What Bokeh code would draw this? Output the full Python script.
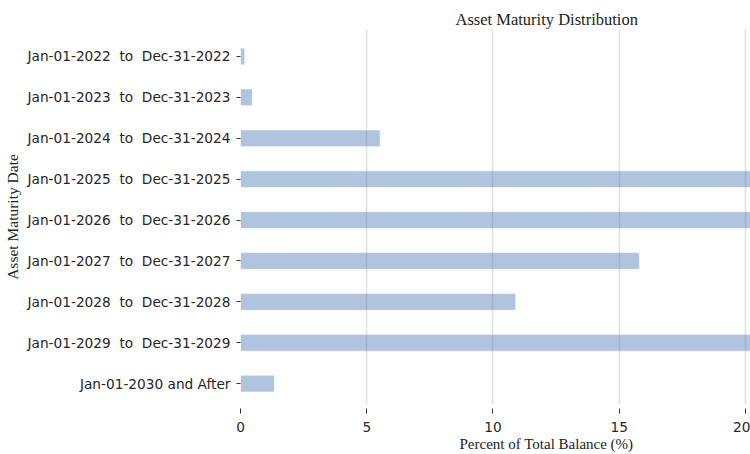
from bokeh.plotting import figure
from bokeh.models import Range1d, FixedTicker, Title
from bokeh.embed import file_html
from bokeh.resources import INLINE

NB = "\u00a0"
categories = [
    "Jan-01-2022 " + NB + "to" + NB + " Dec-31-2022",
    "Jan-01-2023 " + NB + "to" + NB + " Dec-31-2023",
    "Jan-01-2024 " + NB + "to" + NB + " Dec-31-2024",
    "Jan-01-2025 " + NB + "to" + NB + " Dec-31-2025",
    "Jan-01-2026 " + NB + "to" + NB + " Dec-31-2026",
    "Jan-01-2027 " + NB + "to" + NB + " Dec-31-2027",
    "Jan-01-2028 " + NB + "to" + NB + " Dec-31-2028",
    "Jan-01-2029 " + NB + "to" + NB + " Dec-31-2029",
    "Jan-01-2030 and After",
]
percent = [0.17, 0.47, 5.53, 23.1, 21.6, 15.8, 10.9, 21.2, 1.34]
x_ticks = [0, 5, 10, 15, 20]
title_text = "Asset Maturity Distribution"
x_label = "Percent of Total Balance (%)"
y_label = "Asset Maturity Date"

ypos = list(range(len(categories)))

p = figure(width=750, height=454, output_backend="svg", toolbar_location=None,
           x_range=Range1d(0, 20.2), y_range=Range1d(8.51, -0.66),
           min_border_left=239, min_border_right=0, min_border_top=29,
           min_border_bottom=50)

p.hbar(y=ypos, left=0, right=percent, height=0.41, fill_color="#B0C4DE",
       line_color="white", line_alpha=0.6, line_width=1)

p.outline_line_color = None
p.background_fill_color = "white"

# title
p.title.text = title_text
p.title.align = "left"
p.title.offset = 215
p.title.text_font = "Liberation Serif"
p.title.text_font_size = "16.5px"
p.title.text_font_style = "normal"
p.title.text_color = "#222222"
p.title.standoff = 2

# x axis
p.xaxis.ticker = FixedTicker(ticks=x_ticks)
p.xaxis.axis_line_color = None
p.xaxis.major_tick_line_color = "#333333"
p.xaxis.major_tick_out = 9
p.xaxis.major_tick_in = -4
p.xaxis.minor_tick_line_color = None
p.xaxis.major_label_text_font = "DejaVu Sans"
p.xaxis.major_label_text_font_size = "13.7px"
p.xaxis.major_label_text_color = "#262626"
p.xaxis.major_label_standoff = 8

xl = Title(text=x_label, align="left", offset=219, text_font="Liberation Serif",
           text_font_size="15px", text_font_style="normal", text_color="#222222",
           standoff=-2)
p.add_layout(xl, "below")

# y axis
p.yaxis.ticker = FixedTicker(ticks=ypos)
p.yaxis.major_label_overrides = {i: c for i, c in zip(ypos, categories)}
p.yaxis.axis_line_color = None
p.yaxis.major_tick_line_color = "#333333"
p.yaxis.major_tick_out = 4
p.yaxis.major_tick_in = 0
p.yaxis.minor_tick_line_color = None
p.yaxis.major_label_text_font = "DejaVu Sans"
p.yaxis.major_label_text_font_size = "13.7px"
p.yaxis.major_label_text_color = "#262626"
p.yaxis.major_label_standoff = 6
p.yaxis.axis_label = y_label
p.yaxis.axis_label_text_font = "Liberation Serif"
p.yaxis.axis_label_text_font_size = "15.5px"
p.yaxis.axis_label_text_font_style = "normal"
p.yaxis.axis_label_text_color = "#222222"
p.yaxis.axis_label_standoff = 4

# grid
p.ygrid.visible = False
p.xgrid.grid_line_color = "#808080"
p.xgrid.grid_line_alpha = 0.25
p.xgrid.grid_line_width = 1.5
p.xgrid.level = "overlay"

open("out.html", "w").write(file_html(p, INLINE))
